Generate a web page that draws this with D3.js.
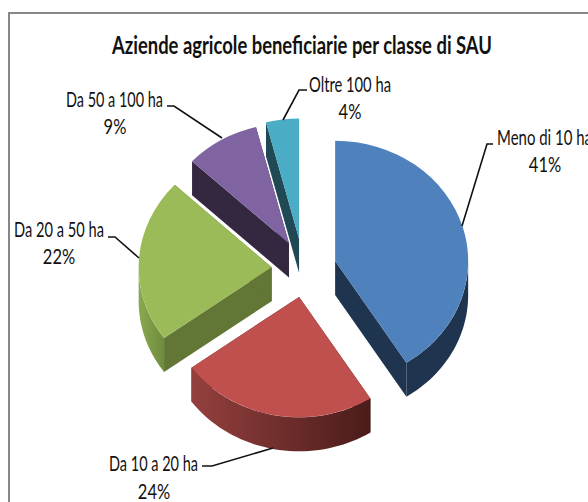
<!DOCTYPE html>
<html><head><meta charset="utf-8">
<script src="https://cdn.jsdelivr.net/npm/d3@7"></script>
<style>html,body{margin:0;padding:0;background:#fff;overflow:hidden}svg{display:block}text{font-family:Lato,"Open Sans",sans-serif;fill:#111}</style>
</head><body><div id="c"></div>
<script>
const title = "Aziende agricole beneficiarie per classe di SAU";
const categories = ["Meno di 10 ha","Da 10 a 20 ha","Da 20 a 50 ha","Da 50 a 100 ha","Oltre 100 ha"];
const percents = [41,24,22,9,4];
const topColors = ["#4F81BD","#C0504D","#9BBB59","#8064A2","#4BACC6"];
const cutColors = ["#1F344F","#4F1E1C","#627636","#33283F","#1F4954"];
const wallStops = [["#1F344F","#1F344F"],["#94403E","#4A1C1A"],["#8AA84E","#6F8C3E"],["#33283F","#33283F"],["#1F4954","#1F4954"]];
// small per-slice shifts of the exploded slices
const nudges = [[0,0],[0,0],[-2,0],[0,-1],[-2,-2]];
// label layout: x start, first baseline, text width, second-line centre, second baseline, leader polyline
const labelLayout = [
 {x:497,y:145,w:95,cx:545,y2:172,lead:[[493,144],[487,144],[462,226]]},
 {x:109,y:471,w:89,cx:154,y2:499,lead:[[202,466],[212,466],[273,448]]},
 {x:14,y:237,w:90,cx:59,y2:264,lead:[[108,237],[115,237],[139,258]]},
 {x:66,y:107,w:97,cx:115,y2:134,lead:[[167,106],[174,106],[222,138]]},
 {x:309,y:92,w:82,cx:350,y2:119,lead:[[307,90],[299,90],[283,120]]}
];
const W=588,H=502, cx=305, cy=269, rx=133, squash=0.905, explode=31.4, depth=34;
const svg=d3.select("#c").append("svg").attr("width",W).attr("height",H);
svg.append("rect").attr("x",9).attr("y",13).attr("width",W+20).attr("height",H+20)
   .attr("fill","#fff").attr("stroke","#878787").attr("stroke-width",2);
svg.append("text").attr("x",112).attr("y",54).attr("font-size",24).attr("font-weight",700)
   .attr("textLength",380).attr("lengthAdjust","spacingAndGlyphs").text(title);

const arcs=d3.pie().sort(null).value(d=>d)(percents);
const arcGen=d3.arc().innerRadius(0).outerRadius(rx);
const defs=svg.append("defs");
const pt=(o,a,r,dz=0)=>[o[0]+r*Math.sin(a), o[1]-r*squash*Math.cos(a)+dz];
const line=d3.line();
const slices=arcs.map((a,i)=>{
  const mid=(a.startAngle+a.endAngle)/2;
  const p=pt([cx,cy],mid,explode);
  return {a,i,o:[p[0]+nudges[i][0],p[1]+nudges[i][1]]};
});
// back to front
[4,3,2,1,0].forEach(i=>{
  const {a,o}=slices[i];
  const g=svg.append("g");
  [a.startAngle,a.endAngle].forEach(t=>{
    const p=pt(o,t,rx);
    g.append("path").attr("fill",cutColors[i])
     .attr("d",line([o,p,[p[0],p[1]+depth],[o[0],o[1]+depth]])+"Z");
  });
  const s=Math.max(a.startAngle,Math.PI/2), e=Math.min(a.endAngle,3*Math.PI/2);
  if(e>s){
    const ts=d3.range(0,41).map(k=>s+(e-s)*k/40);
    const top=ts.map(t=>pt(o,t,rx)), bot=ts.map(t=>pt(o,t,rx,depth)).reverse();
    const id="wall"+i;
    const lg=defs.append("linearGradient").attr("id",id).attr("gradientUnits","userSpaceOnUse")
      .attr("x1",d3.min(top,d=>d[0])).attr("x2",d3.max(top,d=>d[0])).attr("y1",0).attr("y2",0);
    lg.append("stop").attr("offset",0).attr("stop-color",wallStops[i][0]);
    lg.append("stop").attr("offset",1).attr("stop-color",wallStops[i][1]);
    g.append("path").attr("fill",`url(#${id})`).attr("d",line(top.concat(bot))+"Z");
  }
  g.append("path").attr("fill",topColors[i])
   .attr("transform",`translate(${o[0]},${o[1]}) scale(1,${squash})`)
   .attr("d",arcGen(a));
});
categories.forEach((c,i)=>{
  const l=labelLayout[i];
  svg.append("path").attr("fill","none").attr("stroke","#111").attr("stroke-width",1.6).attr("d",line(l.lead));
  svg.append("text").attr("x",l.x).attr("y",l.y).attr("font-size",22)
     .attr("textLength",l.w).attr("lengthAdjust","spacingAndGlyphs").text(c);
  svg.append("text").attr("x",l.cx).attr("y",l.y2).attr("font-size",22).attr("text-anchor","middle")
     .attr("transform",`translate(${l.cx},0) scale(.75,1) translate(${-l.cx},0)`).text(percents[i]+"%");
});
</script></body></html>
